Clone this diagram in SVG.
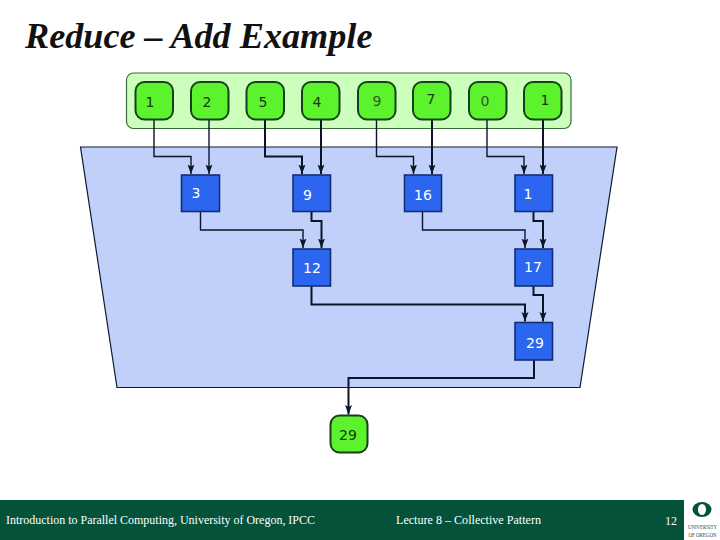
<svg xmlns="http://www.w3.org/2000/svg" width="720" height="540" viewBox="0 0 720 540">
<style>
.g{fill:#5cf22c;stroke:#14401c;stroke-width:2}
.b{fill:#2b65f0;stroke:#13306e;stroke-width:1.6}
.n{font-family:"DejaVu Sans",sans-serif;font-size:14px;text-anchor:middle}
.gt{fill:#163a16}
.bt{fill:#fff}
.c{fill:none;stroke:#0c1428;stroke-width:1.4;marker-end:url(#a)}
.t{stroke-width:2}
.f{font-family:"Liberation Serif",serif;font-size:12px;fill:#fff}
</style>
<defs>
<marker id="a" markerUnits="userSpaceOnUse" markerWidth="10" markerHeight="8" refX="9.500" refY="3.500" orient="auto">
<path d="M0 0L9.500 3.500L0 7L2 3.500Z" fill="#0c1428"/>
</marker>
</defs>
<rect width="720" height="540" fill="#fff"/>
<text x="25" y="48" font-family="Liberation Serif,serif" font-size="36.200" font-weight="bold" font-style="italic" fill="#111">Reduce – Add Example</text>
<g id="input-tray"><rect x="126.500" y="73" width="444.500" height="55.500" rx="7" fill="#ccffbb" stroke="#3a6a3a" stroke-width="1.200"/></g>
<g id="reduce-area"><path d="M80.500 147H617L580 387.500H117Z" fill="#c0d0fb" stroke="#0f1a2e" stroke-width="1.200"/></g>
<g id="connectors">
<path class="c" d="M154 119V156.500H191V174"/>
<path class="c" d="M209 119V174"/>
<path class="c t" d="M265 119V156.500H302V174"/>
<path class="c t" d="M321 119V174"/>
<path class="c" d="M376.500 119V156.500H413.500V174"/>
<path class="c t" d="M432 119V174"/>
<path class="c" d="M487 119V156.500H524V174"/>
<path class="c t" d="M543 119V174"/>
<path class="c" d="M200.500 211V230H303V248"/>
<path class="c t" d="M311.500 211V221H321.500V248"/>
<path class="c" d="M422.500 211V230H525V248"/>
<path class="c t" d="M533.500 211V221H543V248"/>
<path class="c t" d="M311.500 286V304.500H525V321.500"/>
<path class="c t" d="M533.500 286V295H543V321.500"/>
<path class="c t" d="M534 360V378H348.500V414.500"/>
</g>
<g id="in1"><rect class="g" x="135.500" y="82" width="37.500" height="37.500" rx="9"/><text class="n gt" x="150" y="107">1</text></g>
<g id="in2"><rect class="g" x="191" y="82" width="37.500" height="37.500" rx="9"/><text class="n gt" x="207" y="107">2</text></g>
<g id="in3"><rect class="g" x="246.500" y="82" width="37.500" height="37.500" rx="9"/><text class="n gt" x="263" y="107">5</text></g>
<g id="in4"><rect class="g" x="302" y="82" width="37.500" height="37.500" rx="9"/><text class="n gt" x="317" y="107">4</text></g>
<g id="in5"><rect class="g" x="358" y="82" width="37.500" height="37.500" rx="9"/><text class="n" fill="#2e5a2e" x="377" y="106">9</text></g>
<g id="in6"><rect class="g" x="413" y="82" width="37.500" height="37.500" rx="9"/><text class="n gt" x="431" y="104">7</text></g>
<g id="in7"><rect class="g" x="469" y="82" width="37.500" height="37.500" rx="9"/><text class="n" fill="#2e5a2e" x="485" y="106">0</text></g>
<g id="in8"><rect class="g" x="524" y="82" width="37.500" height="37.500" rx="9"/><text class="n gt" x="545" y="105">1</text></g>
<g id="r3"><rect class="b" x="181.500" y="175" width="38" height="36.500"/><text class="n bt" x="196" y="198">3</text></g>
<g id="r9"><rect class="b" x="293" y="175" width="37.500" height="36.500"/><text class="n bt" x="307.500" y="200">9</text></g>
<g id="r16"><rect class="b" x="404.500" y="175" width="37" height="36.500"/><text class="n bt" x="423" y="200">16</text></g>
<g id="r1"><rect class="b" x="515" y="175" width="37.500" height="36.500"/><text class="n bt" x="528" y="199">1</text></g>
<g id="r12"><rect class="b" x="293" y="249" width="37.500" height="37"/><text class="n bt" x="312" y="273">12</text></g>
<g id="r17"><rect class="b" x="515" y="249" width="37.500" height="37"/><text class="n bt" x="533" y="272">17</text></g>
<g id="r29"><rect class="b" x="515" y="322.500" width="37.500" height="37.500"/><text class="n bt" x="535" y="348">29</text></g>
<g id="out"><rect class="g" x="330.500" y="415.500" width="37" height="37" rx="9"/><text class="n gt" x="348" y="440">29</text></g>
<rect x="0" y="500" width="684" height="40" fill="#04523a"/>
<text class="f" x="6" y="524" textLength="309" lengthAdjust="spacingAndGlyphs">Introduction to Parallel Computing, University of Oregon, IPCC</text>
<text class="f" x="396" y="524" textLength="145" lengthAdjust="spacingAndGlyphs">Lecture 8 – Collective Pattern</text>
<text class="f" x="665" y="525">12</text>
<ellipse cx="702" cy="509.500" rx="9.500" ry="7.500" fill="#04523a"/>
<ellipse cx="702" cy="509.500" rx="4" ry="5.500" fill="#fff"/>
<text x="702.500" y="529" font-family="Liberation Serif,serif" font-size="5.500" text-anchor="middle" fill="#444" textLength="29" lengthAdjust="spacingAndGlyphs">UNIVERSITY</text>
<text x="702.500" y="537" font-family="Liberation Serif,serif" font-size="5.500" text-anchor="middle" fill="#444" textLength="28" lengthAdjust="spacingAndGlyphs">OF OREGON</text>
</svg>
